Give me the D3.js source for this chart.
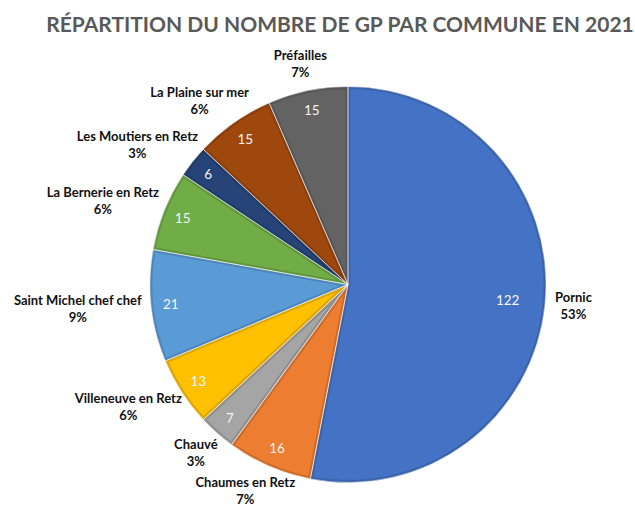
<!DOCTYPE html>
<html><head><meta charset="utf-8">
<script src="https://cdn.jsdelivr.net/npm/d3@7"></script>
<style>body{margin:0;background:#fff}svg{display:block}</style>
</head><body>
<svg id="chart" width="635" height="512"></svg>
<script>
const title = "RÉPARTITION DU NOMBRE DE GP PAR COMMUNE EN 2021";
const communes = ["Pornic","Chaumes en Retz","Chauvé","Villeneuve en Retz","Saint Michel chef chef","La Bernerie en Retz","Les Moutiers en Retz","La Plaine sur mer","Préfailles"];
const values = [122,16,7,13,21,15,6,15,15];
const percentLabels = ["53%","7%","3%","6%","9%","6%","3%","6%","7%"];
const colors = ["#4472C4","#ED7D31","#A5A5A5","#FFC000","#5B9BD5","#70AD47","#264478","#9E480E","#636363"];

const svg = d3.select("#chart");
const cx = 348, cy = 284.5, R = 198;

svg.append("text").attr("x", 340).attr("y", 32).attr("text-anchor","middle")
  .attr("font-family","Lato").attr("font-weight","bold").attr("font-size",21)
  .attr("fill","#595959").text(title);

const data = communes.map((c,i)=>({name:c, value:values[i], pct:percentLabels[i], color:colors[i], i}));
const pie = d3.pie().value(d=>d.value).sort(null);
const arcs = pie(data);
const arc = d3.arc().innerRadius(0).outerRadius(R);

const g = svg.append("g").attr("transform",`translate(${cx},${cy})`);
const defs = svg.append("defs");
arcs.forEach((a,k)=>{
  defs.append("clipPath").attr("id","clip"+k).append("path").attr("d",arc(a));
});
g.selectAll("path.slice").data(arcs).join("path").attr("class","slice")
  .attr("d",arc).attr("fill",d=>d.data.color)
  .attr("stroke",d=>d3.color(d.data.color).darker(0.4)).attr("stroke-width",5)
  .attr("clip-path",(d,k)=>`url(#clip${k})`);
g.selectAll("path.sep").data(arcs).join("path").attr("class","sep")
  .attr("d",arc).attr("fill","none").attr("stroke","#ffffff").attr("stroke-opacity",0.6).attr("stroke-width",0.8);

// value labels inside
g.selectAll("text.val").data(arcs).join("text").attr("class","val")
  .each(function(d){
    const mid=(d.startAngle+d.endAngle)/2;
    const r = (d.endAngle-d.startAngle) > Math.PI/2 ? 0.81*R : 0.9*R;
    d3.select(this).attr("x",Math.sin(mid)*r).attr("y",-Math.cos(mid)*r);
  })
  .attr("text-anchor","middle").attr("dominant-baseline","central")
  .attr("font-family","Lato").attr("font-size",13.5).attr("fill","#f4f4f4")
  .text(d=>d.data.value);

// outside labels
const lg = g.selectAll("g.lab").data(arcs).join("g").attr("class","lab");
lg.each(function(d){
  const el = d3.select(this);
  const t1 = el.append("text").attr("text-anchor","middle").attr("font-family","Lato")
    .attr("font-weight","bold").attr("font-size",13).attr("fill","#111").text(d.data.name);
  const t2 = el.append("text").attr("text-anchor","middle").attr("font-family","Lato")
    .attr("font-weight","bold").attr("font-size",13).attr("fill","#111").text(d.data.pct);
  const w = Math.max(t1.node().getComputedTextLength(), t2.node().getComputedTextLength());
  const h = 34;
  const mid=(d.startAngle+d.endAngle)/2;
  const s=Math.sin(mid), c=-Math.cos(mid);
  const px = s*(R+10), py = c*(R+10);
  const lx = px + s*w/2, ly = py + c*h/2;
  t1.attr("x",lx).attr("y",ly-4);
  t2.attr("x",lx).attr("y",ly+13);
});
</script>
</body></html>
